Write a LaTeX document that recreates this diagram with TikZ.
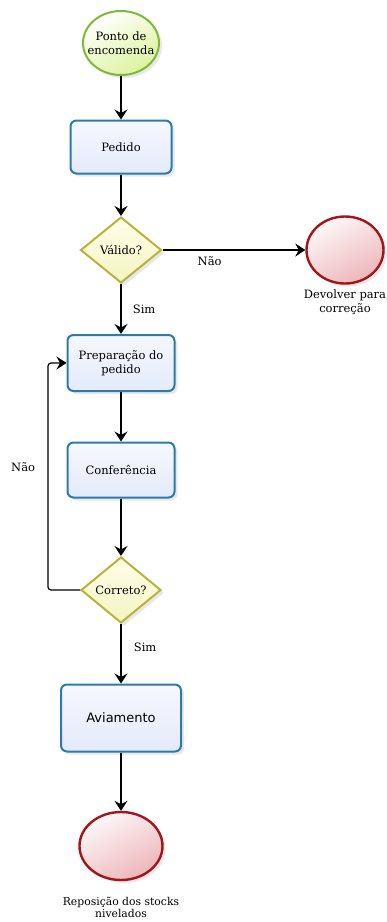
\documentclass[tikz,border=0pt]{standalone}
\usepackage{fontspec}
\setmainfont{DejaVu Serif}
\newfontfamily\avfont{DejaVu Sans}
\usetikzlibrary{shapes.geometric,arrows.meta,shadows}

\definecolor{startline}{HTML}{7DBA3B}
\definecolor{startfill}{HTML}{DDF39C}
\definecolor{procline}{HTML}{2B7BAB}
\definecolor{procfilla}{HTML}{F6F8FE}
\definecolor{procfillb}{HTML}{E4EAFA}
\definecolor{decline}{HTML}{B6B43C}
\definecolor{decfilla}{HTML}{FEFEE8}
\definecolor{decfillb}{HTML}{F4F4C2}
\definecolor{endline}{HTML}{A3151A}
\definecolor{endfill}{HTML}{EDB6BA}

\begin{document}
\begin{tikzpicture}[x=1pt,y=-1pt,
    font=\fontsize{11.5}{13.5}\selectfont,
    conn/.style={draw=black, line width=1.2pt, -{Stealth[length=10pt,width=13pt,inset=3.5pt]}},
    shad/.style={drop shadow={opacity=0.18, shadow xshift=3pt, shadow yshift=-3pt}},
    proc/.style={shad, draw=procline, line width=2pt, rounded corners=6pt,
        top color=procfilla, bottom color=procfillb, align=center, inner sep=0pt},
    decis/.style={shad, diamond, draw=decline, line width=2pt,
        top color=decfilla, bottom color=decfillb, inner sep=0pt,
        minimum width=81pt, minimum height=66pt},
    startev/.style={shad, ellipse, draw=startline, line width=2pt,
        top color=white, bottom color=startfill, shading angle=30, inner sep=0pt,
        minimum width=76pt, minimum height=64pt},
    endev/.style={shad, ellipse, draw=endline, line width=2.4pt,
        top color=white!90!endfill, bottom color=endfill, shading angle=30, inner sep=0pt}]
    \useasboundingbox (0,0) rectangle (387,922);

    \node[startev, label={[align=center]center:{Ponto de\\encomenda}}] (start) at (121,43) {};
    \node[proc, minimum width=101pt, minimum height=53pt] (pedido) at (121,147) {Pedido};
    \node[decis] (valido) at (121,250) {Válido?};
    \node[endev, minimum width=77pt, minimum height=67pt,
        label={[align=center, label distance=2pt]below:{Devolver para\\correção}}] (devolver) at (345,250) {};
    \node[proc, minimum width=107pt, minimum height=56pt] (prep) at (121,363) {Preparação do\\pedido};
    \node[proc, minimum width=107pt, minimum height=55pt] (conf) at (121,470) {Conferência};
    \node[decis, minimum width=80pt] (correto) at (121,590) {Correto?};
    \node[proc, minimum width=120pt, minimum height=67pt, font=\avfont\fontsize{13}{15}\selectfont] (avia) at (121,718) {Aviamento};
    \node[endev, minimum width=83pt, minimum height=68pt,
        label={[align=center, label distance=12pt, font=\fontsize{10.8}{12}\selectfont]below:{Reposição dos stocks\\nivelados}}] (repo) at (121,846) {};

    \draw[conn] (start) -- (pedido);
    \draw[conn] (pedido) -- (valido);
    \draw[conn] (valido.east) -- node[pos=0.33, below=3pt] {Não} (devolver.west);
    \draw[conn] (valido) -- node[midway, right=8pt] {Sim} (prep);
    \draw[conn] (prep) -- (conf);
    \draw[conn] (conf) -- (correto);
    \draw[conn, rounded corners=3pt] (correto.west) -- ++(-32,0) |- node[pos=0.27, left=9pt] {Não} (prep.west);
    \draw[conn] (correto) -- node[pos=0.4, right=9pt] {Sim} (avia);
    \draw[conn] (avia) -- (repo);
\end{tikzpicture}
\end{document}
